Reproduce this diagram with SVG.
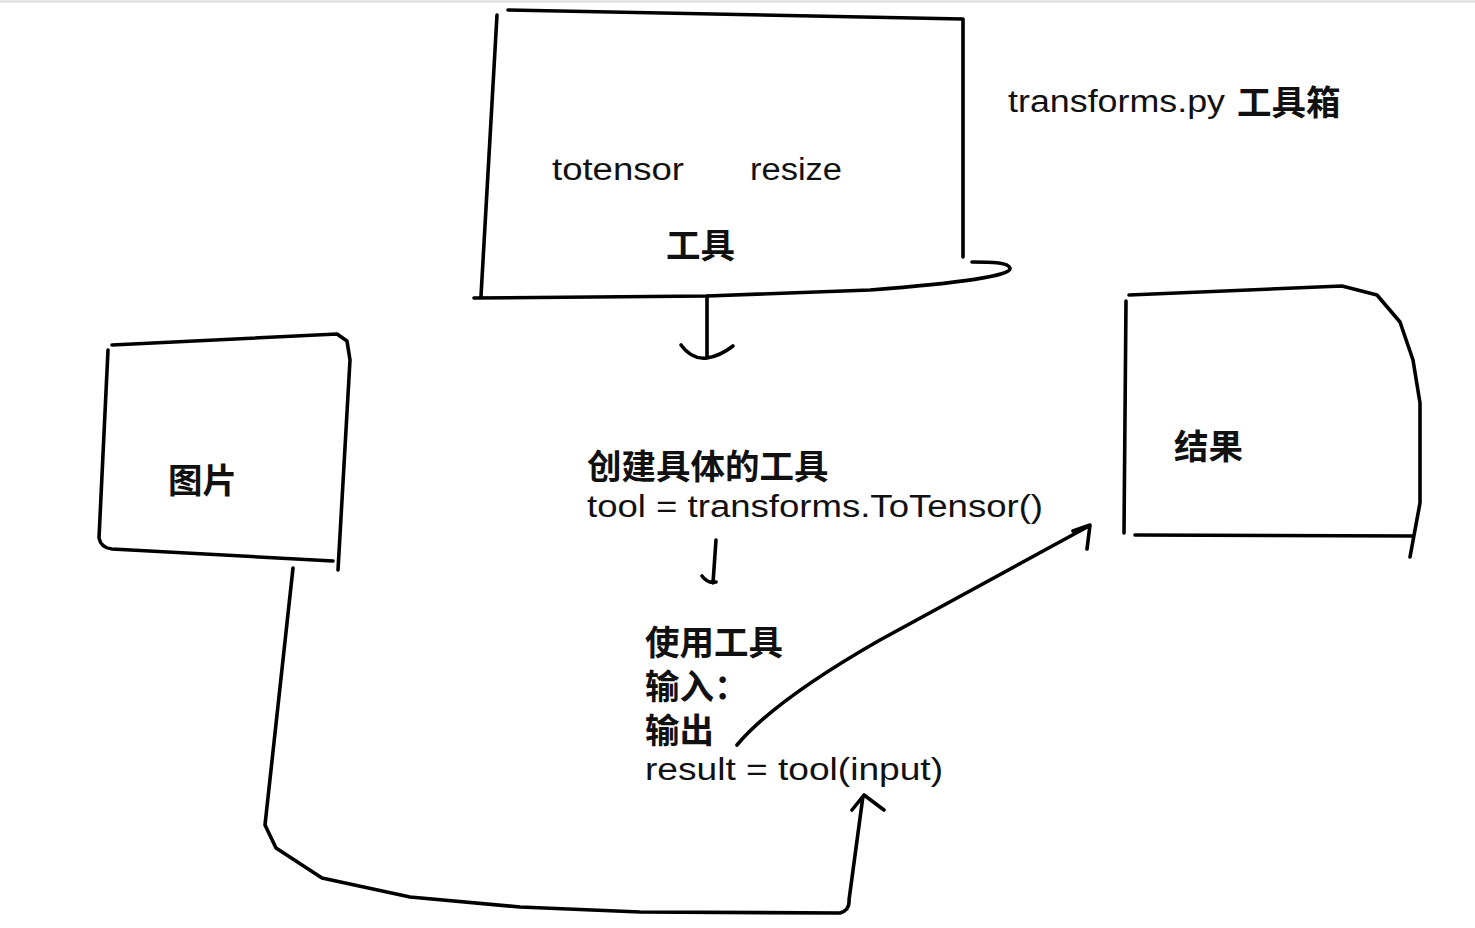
<svg xmlns="http://www.w3.org/2000/svg" width="1475" height="928" viewBox="0 0 1475 928">
<defs>
<style>
.ln{fill:none;stroke:#000;stroke-width:3.6;stroke-linecap:round;stroke-linejoin:round}
.hw{font-family:"Liberation Sans","Noto Sans",sans-serif;font-size:31px;fill:#111;font-weight:normal}
.cj{font-family:"Noto Sans CJK SC","Noto Sans",sans-serif;font-size:34.5px;font-weight:bold;fill:#111}
</style>
</defs>
<rect x="0" y="0" width="1475" height="928" fill="#fff"/>
<rect x="0" y="0" width="1475" height="3" fill="#e6e6e6"/>

<g id="toolbox">
<path class="ln" d="M508,10 L963,19 M497,15 L481,296 M963,19 L963,257 M474,298 L707,296 L870,290 C960,283 1012,276 1010,268 C1008,262 990,262 972,262"/>
<text class="hw" x="552" y="180" textLength="132" lengthAdjust="spacingAndGlyphs">totensor</text>
<text class="hw" x="750" y="180" textLength="92" lengthAdjust="spacingAndGlyphs">resize</text>
<text class="cj" x="666" y="258">工具</text>
</g>

<g id="title">
<text class="hw" x="1008" y="112" textLength="217" lengthAdjust="spacingAndGlyphs">transforms.py</text>
<text class="cj" x="1237" y="115">工具箱</text>
</g>

<g id="image">
<path class="ln" d="M112,345 L337,334 L347,341 L350,360 L338,570 M108,350 L99,538 Q101,548 112,549 L333,561"/>
<text class="cj" x="168" y="493">图片</text>
</g>

<g id="result">
<path class="ln" d="M1129,295 L1342,286 L1377,295 L1400,322 L1413,360 L1420,403 L1420,503 L1410,557 M1126,301 L1124,533 M1135,535 L1413,536"/>
<text class="cj" x="1174" y="459">结果</text>
</g>

<g id="create">
<text class="cj" x="587" y="479">创建具体的工具</text>
<text class="hw" x="587" y="517" textLength="456" lengthAdjust="spacingAndGlyphs">tool = transforms.ToTensor()</text>
</g>

<g id="use">
<text class="cj" x="645" y="655">使用工具</text>
<text class="cj" x="645" y="699">输入：</text>
<text class="cj" x="645" y="743">输出</text>
<text class="hw" x="645" y="780" textLength="298" lengthAdjust="spacingAndGlyphs">result = tool(input)</text>
</g>

<g id="connectors">
<path class="ln" d="M707,296 L707,358 M681,345 Q692,360 707,358 Q720,356 733,346"/>
<path class="ln" d="M716,540 L713,583 M702,576 Q708,584 716,582"/>
<path class="ln" d="M293,568 L265,825 L276,848 L322,878 L410,897 L520,907 L640,912 L840,913 Q850,910 849,900 L863,796 M852,810 L864,795 L884,810"/>
<path class="ln" d="M737,745 Q775,700 880,640 L1089,526 M1073,531 L1090,525 L1087,549"/>
</g>
</svg>
